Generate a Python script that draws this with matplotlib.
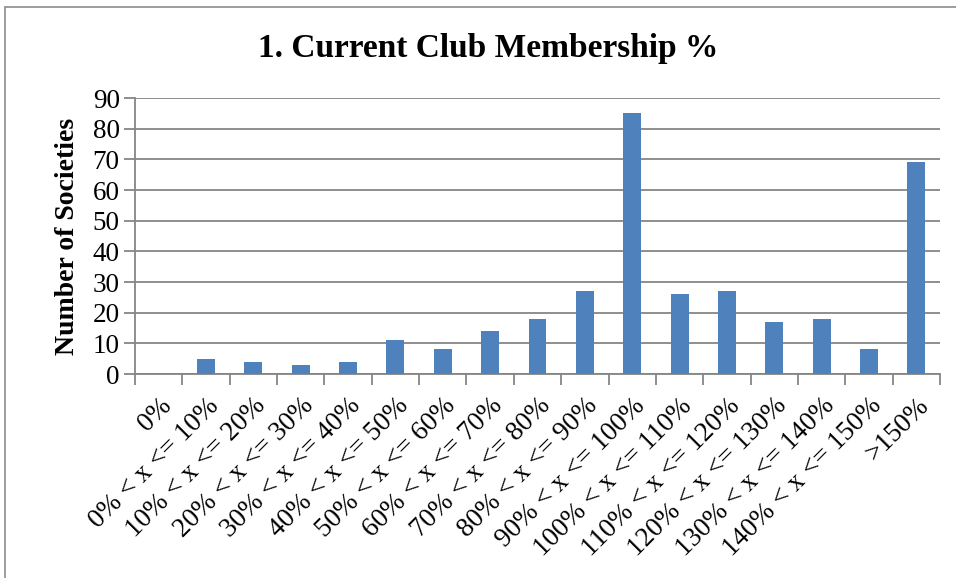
import matplotlib.pyplot as plt
import numpy as np
from matplotlib.patches import Rectangle

# categories and counts
categories = ['0%', '0% < x <= 10%', '10% < x <= 20%', '20% < x <= 30%',
              '30% < x <= 40%', '40% < x <= 50%', '50% < x <= 60%',
              '60% < x <= 70%', '70% < x <= 80%', '80% < x <= 90%',
              '90% < x <= 100%', '100% < x <= 110%', '110% < x <= 120%',
              '120% < x <= 130%', '130% < x <= 140%', '140% < x <= 150%',
              '>150%']
counts = [0, 5, 4, 3, 4, 11, 8, 14, 18, 27, 85, 26, 27, 17, 18, 8, 69]
yticks = list(range(0, 100, 10))

plt.rcParams['font.family'] = ['Liberation Serif', 'DejaVu Serif']

fig = plt.figure(figsize=(9.56, 5.78), dpi=100)
ax = fig.add_axes([135/956, 1-374/578, (940-135)/956, (374-98)/578])

# outer chart border
fig.patches.append(Rectangle((5/956, -0.05), 1.1, 1-7/578+0.05,
                             transform=fig.transFigure, fill=False,
                             edgecolor='#8c8c8c', linewidth=1.2))

x = np.arange(len(categories))
ax.bar(x, counts, width=0.38, color='#4f81bd', zorder=3)

ax.set_xlim(-0.5, len(categories)-0.5)
ax.set_ylim(0, 90)
ax.set_yticks(yticks)
ax.set_yticklabels([str(v) for v in yticks], fontsize=19.5)
ax.yaxis.grid(True, color='#868686', linewidth=1.3, zorder=0)

# ticks between categories, labels at centres
ax.set_xticks(np.arange(-0.5, len(categories), 1.0))
ax.set_xticklabels([])
ax.set_xticks(x, minor=True)
ax.set_xticklabels(categories, minor=True, rotation=45, ha='right',
                   rotation_mode='anchor', fontsize=19.5)
ax.tick_params(axis='x', which='minor', length=0, pad=14)
ax.tick_params(axis='x', which='major', length=8, width=1.3, color='#868686')
ax.tick_params(axis='y', length=8, width=1.3, color='#868686', pad=3)

for s in ['top', 'right']:
    ax.spines[s].set_visible(False)
for s in ['left', 'bottom']:
    ax.spines[s].set_color('#868686')
    ax.spines[s].set_linewidth(1.3)

ax.set_ylabel('Number of Societies', fontsize=20, fontweight='bold', labelpad=9)
fig.text(488/956, 1-48/578, '1. Current Club Membership %', ha='center',
         va='center', fontsize=24, fontweight='bold')

fig.savefig('out.png', dpi=100)
